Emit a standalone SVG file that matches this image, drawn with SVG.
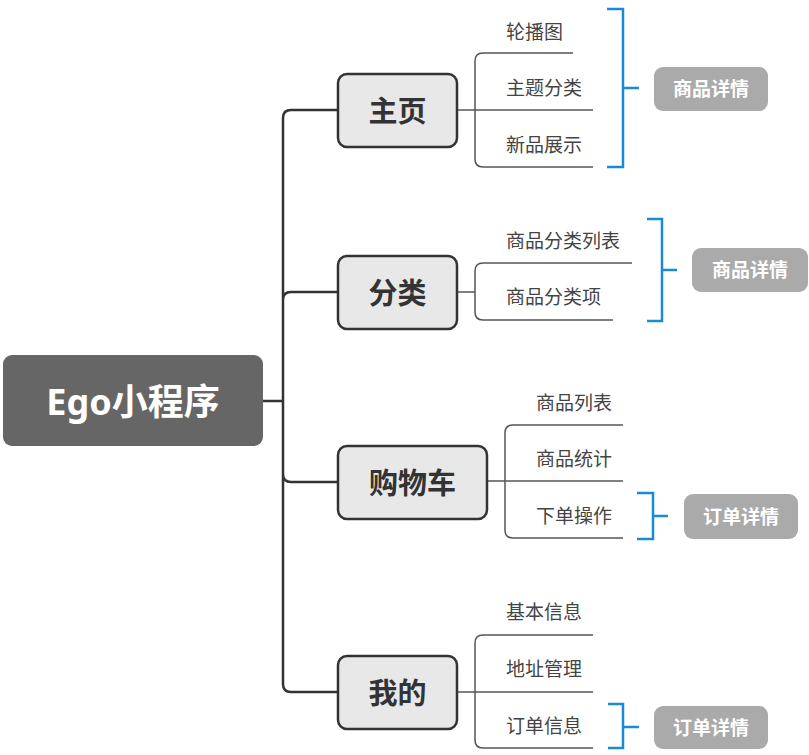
<svg xmlns="http://www.w3.org/2000/svg" width="809" height="755" viewBox="0 0 809 755">
<style>
text{font-family:"Noto Sans","Noto Sans CJK SC",sans-serif;dominant-baseline:central}
.main rect{fill:#e8e8e8;stroke:#333;stroke-width:2.5}
.main text{font-size:29px;font-weight:bold;fill:#333;text-anchor:middle}
.sub text{font-size:19px;fill:#444}
.sum rect{fill:#aaaaaa}
.sum text{font-size:19px;font-weight:bold;fill:#fff;text-anchor:middle}
.trunk{fill:none;stroke:#333;stroke-width:2.5}
.thin{fill:none;stroke:#555;stroke-width:1.5}
.br{fill:none;stroke:#1a8ad4;stroke-width:2.5}
</style>
<rect width="809" height="755" fill="#fff"/>
<g id="connectors">
<path class="trunk" d="M262 401H283M291 110H338M283 118V684Q283 692 291 692H338M283 118Q283 110 291 110M283 300Q283 292 291 292H338M283 474Q283 482 291 482H338"/>
<path class="thin" d="M457 110H475M573 53H483Q475 53 475 61V159Q475 167 483 167H593M475 110H593"/>
<path class="thin" d="M457 292H475M632 263H483Q475 263 475 271V312Q475 320 483 320H613"/>
<path class="thin" d="M487 481H505M623 425H513Q505 425 505 433V530Q505 538 513 538H623M505 481H623"/>
<path class="thin" d="M457 692H475M593 635H483Q475 635 475 643V740Q475 748 483 748H593M475 692H593"/>
<path class="br" d="M607 9H623V167H607M623 88H639"/>
<path class="br" d="M647 219H662V321H647M662 270H677"/>
<path class="br" d="M637 493H653V539H637M653 516H668"/>
<path class="br" d="M608 704H623V748H608M623 727H639"/>
</g>
<g id="root"><rect x="3" y="355" width="260" height="91" rx="9" fill="#666"/><text x="133" y="401" font-size="36" font-weight="bold" fill="#fff" text-anchor="middle">Ego小程序</text></g>
<g id="n-home" class="main"><rect x="338" y="74" width="119" height="73" rx="9"/><text x="397.5" y="110">主页</text></g>
<g id="n-cat" class="main"><rect x="338" y="256" width="119" height="73" rx="9"/><text x="397.5" y="292">分类</text></g>
<g id="n-cart" class="main"><rect x="338" y="446" width="149" height="73" rx="9"/><text x="412.5" y="482">购物车</text></g>
<g id="n-me" class="main"><rect x="338" y="656" width="119" height="73" rx="9"/><text x="397.5" y="692">我的</text></g>
<g id="home-children" class="sub">
<text x="506" y="32">轮播图</text>
<text x="506" y="88">主题分类</text>
<text x="506" y="145">新品展示</text>
</g>
<g id="cat-children" class="sub">
<text x="506" y="241">商品分类列表</text>
<text x="506" y="297">商品分类项</text>
</g>
<g id="cart-children" class="sub">
<text x="536" y="403">商品列表</text>
<text x="536" y="459">商品统计</text>
<text x="536" y="516">下单操作</text>
</g>
<g id="me-children" class="sub">
<text x="506" y="612">基本信息</text>
<text x="506" y="669">地址管理</text>
<text x="506" y="726">订单信息</text>
</g>
<g id="s-home" class="sum"><rect x="654" y="67" width="114" height="44" rx="9"/><text x="711" y="89">商品详情</text></g>
<g id="s-cat" class="sum"><rect x="692" y="248" width="116" height="44" rx="9"/><text x="750" y="270">商品详情</text></g>
<g id="s-cart" class="sum"><rect x="684" y="494" width="114" height="45" rx="9"/><text x="741" y="516.5">订单详情</text></g>
<g id="s-me" class="sum"><rect x="654" y="706" width="114" height="43" rx="9"/><text x="711" y="727.5">订单详情</text></g>
</svg>
